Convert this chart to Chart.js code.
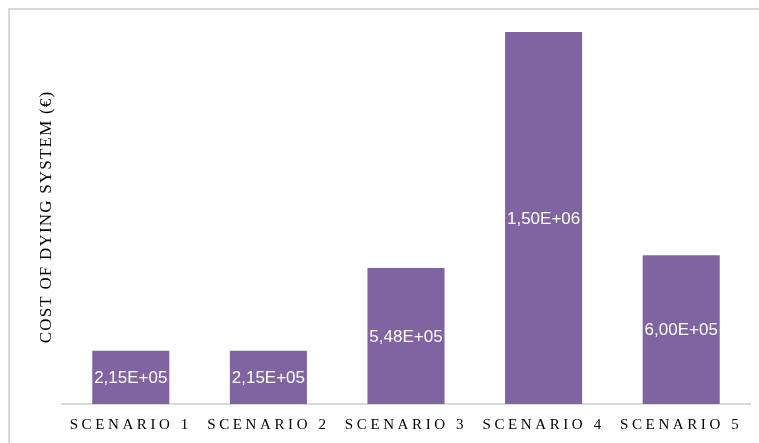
<!DOCTYPE html>
<html>
<head>
<meta charset="utf-8">
<script src="https://cdn.jsdelivr.net/npm/chart.js@4/dist/chart.umd.min.js"></script>
<style>
  html, body { margin: 0; padding: 0; background: #fff; overflow: hidden; }
  #wrap { position: relative; width: 759px; height: 443px; }
  #moldura { position: absolute; left: 8px; top: 8px; width: 800px; height: 500px;
    border-top: 2px solid #d9d9d9; border-left: 2px solid #d9d9d9; }
  #grafico { position: absolute; left: 0; top: 0; }
</style>
</head>
<body>
<div id="wrap">
  <div id="moldura"></div>
  <canvas id="grafico" width="759" height="443"></canvas>
</div>
<script>
  // dados
  var cenarios = ['SCENARIO 1', 'SCENARIO 2', 'SCENARIO 3', 'SCENARIO 4', 'SCENARIO 5']
  var custos = [215000, 215000, 548000, 1500000, 600000]
  var tituloY = 'COST OF DYING SYSTEM (€)'

  function formatar(v) {
    // 2.15e+5 -> 2,15E+05
    var partes = v.toExponential(2).split('e')
    var exp = Number(partes[1])
    var sinal = exp < 0 ? '-' : '+'
    var e = String(Math.abs(exp)).padStart(2, '0')
    return partes[0].replace('.', ',') + 'E' + sinal + e
  }

  // espaçamento entre letras so nos rotulos do eixo x
  const espacamento = {
    id: 'espacamento',
    beforeDraw(chart) { chart.ctx.letterSpacing = '3.6px' },
    beforeDatasetsDraw(chart) { chart.ctx.letterSpacing = '0px' }
  }

  const rotulos = {
    id: 'rotulos',
    afterDatasetsDraw(chart) {
      const ctx = chart.ctx
      const meta = chart.getDatasetMeta(0)
      ctx.save()
      ctx.font = '17px "Liberation Sans", Arial, sans-serif'
      ctx.fillStyle = '#ffffff'
      ctx.textAlign = 'center'
      ctx.textBaseline = 'middle'
      meta.data.forEach(function (bar, i) {
        ctx.fillText(formatar(custos[i]), bar.x, (bar.y + bar.base) / 2 + 1)
      })
      ctx.restore()
    },
    afterDraw(chart) {
      const ctx = chart.ctx
      ctx.save()
      ctx.letterSpacing = '1.2px'
      ctx.font = '17px "Liberation Serif", "Times New Roman", serif'
      ctx.fillStyle = '#000000'
      ctx.textAlign = 'center'
      ctx.textBaseline = 'middle'
      ctx.translate(47, (chart.chartArea.top + chart.chartArea.bottom) / 2)
      ctx.rotate(-Math.PI / 2)
      ctx.fillText(tituloY, 0, 0)
      ctx.restore()
    }
  }

  const data = {
    labels: cenarios,
    datasets: [{
      label: 'Cost',
      data: custos,
      backgroundColor: '#8064a2',
      borderWidth: 0,
      categoryPercentage: 1,
      barPercentage: 0.56
    }]
  }

  const config = {
    type: 'bar',
    data,
    options: {
      responsive: false,
      animation: false,
      layout: { padding: { left: 62, right: 9, top: 30, bottom: -4 } },
      plugins: {
        legend: { display: false },
        tooltip: { enabled: false }
      },
      scales: {
        x: {
          grid: { display: false, drawTicks: false },
          border: { display: true, color: '#d9d9d9', width: 2 },
          ticks: {
            color: '#000000',
            padding: 14,
            maxRotation: 0,
            font: { family: '"Liberation Serif", "Times New Roman", serif', size: 15, lineHeight: 1 }
          }
        },
        y: {
          display: false,
          min: 0,
          max: 1508000
        }
      }
    },
    plugins: [espacamento, rotulos]
  }

  const grafico = new Chart(document.getElementById('grafico'), config)
</script>
</body>
</html>
